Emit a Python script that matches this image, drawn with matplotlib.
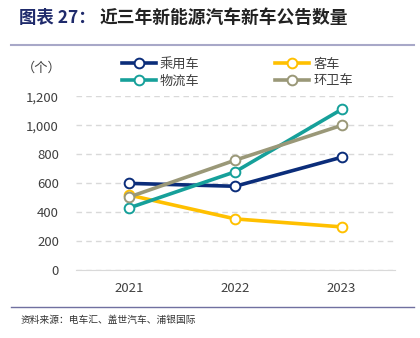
import matplotlib.pyplot as plt
from matplotlib.lines import Line2D

plt.rcParams['font.family'] = ['Noto Sans CJK SC', 'DejaVu Sans']

years = ['2021', '2022', '2023']
passenger = [600, 580, 780]
bus = [520, 355, 300]
logistics = [430, 680, 1110]
sanitation = [505, 760, 1000]

series = [
    ('乘用车', passenger, '#0B2D7A'),
    ('客车', bus, '#FFC000'),
    ('物流车', logistics, '#16A09A'),
    ('环卫车', sanitation, '#9A9878'),
]

fig = plt.figure(figsize=(4.2, 3.38), dpi=100)
ax = fig.add_axes([0.18, 0.2, 0.76, 0.515])

x = range(len(years))
for name, vals, color in series:
    ax.plot(x, vals, color=color, lw=2.6, marker='o', ms=7,
            mfc='white', mec=color, mew=1.4, label=name, zorder=3)

ax.set_ylim(0, 1200)
ax.set_yticks(range(0, 1201, 200))
ax.set_yticklabels([f'{v:,}' for v in range(0, 1201, 200)])
ax.set_xlim(-0.5, 2.5)
ax.set_xticks(list(x))
ax.set_xticklabels(years)
ax.grid(axis='y', color='#D9D9D9', ls=(0, (4, 3)), lw=1)
for s in ['top', 'right', 'left']:
    ax.spines[s].set_visible(False)
ax.spines['bottom'].set_color('#D9D9D9')
ax.tick_params(axis='both', length=0, labelsize=9.5, colors='#404040')
ax.tick_params(axis='x', pad=8)
ax.tick_params(axis='y', pad=12)

fig.text(0.1, 0.798, '（个）', fontsize=9.5, color='#404040', ha='center', va='center')

handles = [Line2D([], [], color=c, lw=2.6, marker='o', ms=7, mfc='white', mec=c, mew=1.4)
           for _, _, c in series]
labels = [n for n, _, _ in series]
fig.legend([handles[0], handles[2], handles[1], handles[3]],
           [labels[0], labels[2], labels[1], labels[3]],
           ncol=2, loc='center', bbox_to_anchor=(0.565, 0.785), frameon=False,
           fontsize=9.5, handlelength=2.6, columnspacing=5.7, handletextpad=0.3,
           labelspacing=0.25, labelcolor='#404040')

fig.text(0.045, 0.948, '图表 27：', fontsize=12.5, color='#1F2A6B', fontweight='bold', va='center')
fig.text(0.238, 0.948, '近三年新能源汽车新车公告数量', fontsize=12.8, color='#222222', fontweight='bold', va='center')
fig.add_artist(Line2D([0.025, 0.985], [0.868, 0.868], color='#A8A8C8', lw=1.5))
fig.add_artist(Line2D([0.025, 0.985], [0.092, 0.092], color='#7070A0', lw=1))
fig.text(0.05, 0.053, '资料来源：电车汇、盖世汽车、浦银国际', fontsize=7, color='#333333', va='center')

fig.savefig('out.png', dpi=100)
